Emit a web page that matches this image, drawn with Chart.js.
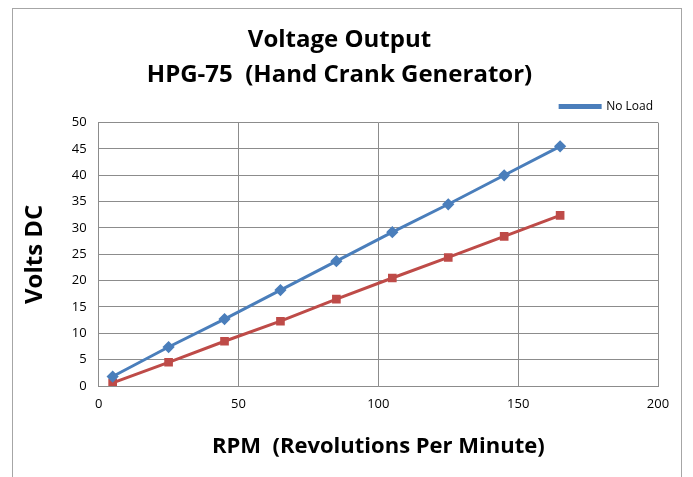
<!DOCTYPE html>
<html>
<head>
<meta charset="utf-8">
<script src="https://cdn.jsdelivr.net/npm/chart.js@4.4.1/dist/chart.umd.min.js"></script>
<style>
  html, body { margin: 0; padding: 0; background: #fff; }
  #wrap { position: relative; width: 693px; height: 477px; overflow: hidden; }
  #frame { position: absolute; left: 12px; top: 8px; width: 670px; height: 480px; border: 1px solid #a6a6a6; box-sizing: border-box; }
  #chart { position: absolute; left: 0; top: 0; }
</style>
</head>
<body>
<div id="wrap">
  <div id="frame"></div>
  <canvas id="chart" width="693" height="477"></canvas>
</div>
<script>
const rpm = [5, 25, 45, 65, 85, 105, 125, 145, 165];
const noLoad = [1.8, 7.4, 12.7, 18.2, 23.7, 29.2, 34.5, 40.0, 45.5];
const withLoad = [0.6, 4.5, 8.5, 12.3, 16.5, 20.5, 24.4, 28.4, 32.4];

const FONT = '"Open Sans", "Noto Sans", sans-serif';

function toPoints(xs, ys) {
  return xs.map((x, i) => ({ x: x, y: ys[i] }));
}

const ctx = document.getElementById('chart').getContext('2d');
new Chart(ctx, {
  type: 'line',
  data: {
    datasets: [{
      label: 'No Load',
      data: toPoints(rpm, noLoad),
      borderColor: '#4a7ebb',
      backgroundColor: '#4a7ebb',
      pointStyle: 'rectRot',
      pointRadius: 4,
      borderWidth: 3,
      tension: 0,
    }, {
      label: 'Load',
      data: toPoints(rpm, withLoad),
      borderColor: '#be4b48',
      backgroundColor: '#be4b48',
      pointStyle: 'rect',
      pointRadius: 4,
      borderWidth: 3,
      tension: 0,
    }],
  },
  options: {
    responsive: false,
    animation: false,
    layout: {
      padding: { top: 0, left: 21, right: 35, bottom: 17 },
    },
    plugins: {
      title: {
        display: true,
        text: ['Voltage Output', 'HPG-75  (Hand Crank Generator)'],
        color: '#000',
        font: { family: FONT, size: 24, weight: 'bold', lineHeight: 1.45 },
        padding: { top: 23, bottom: 3 },
      },
      legend: {
        display: true,
        position: 'top',
        align: 'end',
        labels: {
          color: '#000',
          font: { family: FONT, size: 12 },
          boxWidth: 40,
          boxHeight: 2,
          padding: 5,
          filter: (item) => item.text === 'No Load',
        },
      },
      tooltip: { enabled: false },
    },
    scales: {
      x: {
        type: 'linear',
        min: 0,
        max: 200,
        ticks: {
          stepSize: 50,
          color: '#000',
          font: { family: FONT, size: 13 },
          padding: 10,
        },
        grid: { color: '#8c8c8c', drawTicks: false },
        border: { color: '#8c8c8c' },
        title: {
          display: true,
          text: 'RPM  (Revolutions Per Minute)',
          color: '#000',
          font: { family: FONT, size: 22, weight: 'bold' },
          padding: { top: 12, bottom: 0 },
        },
      },
      y: {
        min: 0,
        max: 50,
        ticks: {
          stepSize: 5,
          color: '#000',
          font: { family: FONT, size: 13 },
          padding: 12,
        },
        grid: { color: '#8c8c8c', drawTicks: false },
        border: { color: '#8c8c8c' },
        title: {
          display: true,
          text: 'Volts DC',
          color: '#000',
          font: { family: FONT, size: 24, weight: 'bold' },
          padding: { top: 0, bottom: 10 },
        },
      },
    },
  },
});
</script>
</body>
</html>
